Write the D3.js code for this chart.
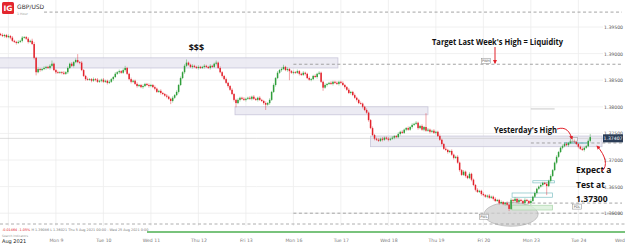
<!DOCTYPE html>
<html>
<head>
<meta charset="utf-8">
<title>GBP/USD</title>
<script src="https://d3js.org/d3.v7.min.js"></script>
<style>
  body { margin: 0; background: #fff; }
  svg { display: block; font-family: "DejaVu Sans", sans-serif; }
  .note { font-weight: bold; fill: #111; font-family: "Open Sans", sans-serif; }
</style>
</head>
<body>
<script>
// hourly GBP/USD bars, Thu 5 Aug 20:00 -> Tue 24 Aug 06:00 (weekend hours removed)
var firstOpen = 1.3937;
var closes = [
  1.3935,1.3933,1.3935,1.3931,1.3933,1.3930,1.3924,1.3922,1.3920,1.3922,1.3924,1.3930,1.3931,1.3928,1.3922,1.3924,1.3918,1.3892,1.3865,1.3871,1.3869,1.3871,1.3873,1.3875,
  1.3873,1.3877,1.3881,1.3869,1.3865,1.3864,1.3865,1.3864,1.3862,1.3865,1.3873,1.3881,1.3877,1.3884,1.3888,1.3884,1.3883,1.3869,1.3858,1.3852,1.3851,1.3852,1.3849,1.3852,
  1.3851,1.3847,1.3849,1.3851,1.3847,1.3849,1.3845,1.3847,1.3852,1.3856,1.3862,1.3865,1.3867,1.3864,1.3869,1.3873,1.3862,1.3852,1.3847,1.3849,1.3843,1.3839,1.3841,1.3837,
  1.3839,1.3843,1.3841,1.3839,1.3841,1.3837,1.3834,1.3828,1.3830,1.3826,1.3824,1.3821,1.3819,1.3815,1.3811,1.3817,1.3822,1.3828,1.3841,1.3854,1.3865,1.3877,1.3883,1.3879,
  1.3875,1.3877,1.3875,1.3873,1.3875,1.3873,1.3875,1.3877,1.3875,1.3873,1.3877,1.3875,1.3881,1.3883,1.3873,1.3865,1.3858,1.3852,1.3845,1.3839,1.3832,1.3824,1.3813,1.3807,
  1.3813,1.3817,1.3815,1.3813,1.3815,1.3817,1.3815,1.3819,1.3815,1.3813,1.3817,1.3813,1.3811,1.3807,1.3804,1.3807,1.3813,1.3828,1.3841,1.3854,1.3864,1.3869,1.3871,1.3875,
  1.3869,1.3871,1.3867,1.3864,1.3865,1.3864,1.3867,1.3862,1.3860,1.3864,1.3862,1.3854,1.3851,1.3852,1.3858,1.3856,1.3862,1.3864,1.3847,1.3836,1.3841,1.3843,1.3845,1.3843,
  1.3847,1.3845,1.3843,1.3847,1.3845,1.3841,1.3837,1.3832,1.3826,1.3828,1.3822,1.3817,1.3813,1.3807,1.3806,1.3800,1.3794,1.3789,1.3775,1.3760,1.3747,1.3740,1.3738,1.3736,
  1.3740,1.3738,1.3742,1.3740,1.3738,1.3740,1.3742,1.3745,1.3743,1.3749,1.3753,1.3751,1.3757,1.3760,1.3757,1.3762,1.3766,1.3768,1.3770,1.3760,1.3764,1.3757,1.3762,1.3755,
  1.3757,1.3753,1.3755,1.3751,1.3753,1.3745,1.3738,1.3730,1.3721,1.3719,1.3715,1.3717,1.3710,1.3704,1.3706,1.3695,1.3681,1.3672,1.3678,1.3670,1.3666,1.3674,1.3663,1.3653,
  1.3644,1.3640,1.3642,1.3636,1.3634,1.3631,1.3633,1.3629,1.3631,1.3627,1.3623,1.3625,1.3619,1.3621,1.3617,1.3619,1.3616,1.3608,1.3625,1.3623,1.3627,1.3621,1.3625,1.3623,
  1.3619,1.3625,1.3623,1.3619,1.3623,1.3631,1.3638,1.3646,1.3650,1.3653,1.3657,1.3655,1.3651,1.3661,1.3670,1.3681,1.3695,1.3706,1.3715,1.3723,1.3726,1.3730,1.3728,1.3732,
  1.3736,1.3738,1.3734,1.3730,1.3725,1.3721,1.3719,1.3723,1.3726,1.3736,1.3743
];
// wick lengths in pips above / below the body
var wickUp = [
  2,3,2,2,3,2,3,2,2,3,2,3,2,2,3,2,4,4,2,3,2,2,3,2,
  2,3,6,2,2,3,2,2,3,2,3,2,3,2,3,11,2,3,2,2,3,2,2,3,
  2,3,2,2,3,2,2,3,2,2,3,2,3,2,3,4,2,2,3,2,2,3,2,2,
  3,2,2,3,2,2,3,2,2,3,2,2,3,2,2,3,2,3,2,3,2,3,6,2,
  2,3,2,2,3,2,2,3,2,2,3,2,2,4,2,3,2,2,3,2,2,3,2,2,
  3,2,2,3,2,2,3,2,3,2,2,3,2,2,3,2,3,2,3,2,3,2,3,4,
  2,3,2,2,3,2,3,2,2,3,2,2,3,2,2,3,2,3,2,2,3,2,2,3,
  2,2,3,2,2,3,2,2,3,2,2,3,2,2,3,2,2,3,2,2,3,2,2,3,
  2,3,2,2,3,2,3,2,2,3,2,3,2,2,3,2,3,2,3,2,2,3,2,26,
  3,2,2,3,2,2,3,2,2,3,2,2,3,2,2,3,2,2,3,2,2,3,2,2,
  2,3,2,2,3,2,2,3,2,2,3,2,2,3,2,2,3,2,3,2,3,2,3,2,
  2,3,2,2,3,2,3,2,2,3,2,2,3,2,3,2,2,3,2,2,3,2,3,2,
  3,4,2,3,2,2,3,2,2,3,6
];
var wickDown = [
  2,2,3,2,2,3,2,2,3,2,2,3,2,2,3,2,2,3,6,2,3,2,2,3,
  2,3,2,2,3,2,2,3,2,2,3,2,2,3,2,2,3,2,2,3,2,2,3,2,
  3,2,2,3,2,2,3,2,2,3,2,2,3,2,2,3,2,2,3,2,2,3,2,2,
  3,2,2,3,2,2,3,2,2,3,2,2,3,2,6,3,2,2,3,2,2,3,2,2,
  2,3,2,2,3,2,2,3,2,2,3,2,2,3,2,2,3,2,2,3,2,2,3,8,
  2,3,2,2,3,2,2,3,2,2,3,2,2,3,10,2,3,2,2,3,2,2,3,2,
  2,3,17,2,3,2,2,3,2,2,3,2,2,3,2,2,3,2,2,6,2,3,2,2,
  3,2,2,3,2,2,3,2,2,3,2,2,3,2,2,3,2,2,3,2,2,3,2,2,
  2,3,2,2,3,2,2,3,2,2,3,2,2,3,2,2,3,2,2,3,2,2,3,2,
  2,3,2,2,3,2,2,3,2,2,3,2,2,3,2,2,3,2,2,3,2,2,3,2,
  3,2,2,3,2,2,3,2,2,3,2,2,3,2,2,3,2,4,2,3,2,2,3,2,
  2,3,2,2,3,2,2,3,2,2,3,2,17,2,3,2,2,3,2,2,3,2,2,3,
  2,3,2,2,3,2,2,3,2,2,3
];

var dayIndex = [4, 28, 52, 76, 100, 124, 148, 172, 196, 220, 244, 268, 292, 316];
var dayLabels = ["Aug 2021", "Mon 9", "Tue 10", "Wed 11", "Thu 12", "Fri 13", "Mon 16", "Tue 17", "Wed 18", "Thu 19", "Fri 20", "Mon 23", "Tue 24", "Wed"];
var priceTicks = [1.360, 1.365, 1.370, 1.375, 1.380, 1.385, 1.390, 1.395];
var lastPrice = 1.37407;

// drawn zones: [from bar, to bar, low, high]
var zones = [[-1, 170.5, 1.3873, 1.3892], [118.5, 216, 1.3785, 1.3800], [187, 316, 1.3725, 1.3745]];
// dashed levels: [price, from bar, tag]
var levels = [[1.3978, 22, ""], [1.3880, 148, "PWH"], [1.3732, 268, ""], [1.3619, 252, "PDL"], [1.3600, 148, "PWL"]];
// small drawn ranges near the lows: [from bar, to bar, low, high, filled]
var ranges = [[258.5, 279, 1.3630, 1.3638, 0], [258.5, 279, 1.3606, 1.3615, 1], [269, 280, 1.3657, 1.3661, 0], [285, 296, 1.3731, 1.3733, 0]];
var marks = [[268, 280, 1.3796]];

var W = 625, H = 246, pip = 0.0001;
var svg = d3.select("body").append("svg").attr("width", W).attr("height", H);

var x = d3.scaleLinear().domain([0, 316]).range([0.5, 0.5 + 316 * 1.979]);
var y = d3.scaleLinear().domain([1.360, 1.395]).range([213.2, 27]);

// grid
svg.append("g").selectAll("line").data(dayIndex).enter().append("line")
  .attr("x1", d => x(d)).attr("x2", d => x(d)).attr("y1", 0).attr("y2", 226)
  .attr("stroke", "#ececec").attr("stroke-width", 0.8);
svg.append("g").selectAll("line").data(priceTicks).enter().append("line")
  .attr("x1", 0).attr("x2", 603).attr("y1", d => y(d)).attr("y2", d => y(d))
  .attr("stroke", "#ececec").attr("stroke-width", 0.8);

// zones
svg.append("g").selectAll("rect").data(zones).enter().append("rect")
  .attr("x", d => x(d[0])).attr("width", d => Math.min(x(d[1]), 602) - x(d[0]))
  .attr("y", d => y(d[3])).attr("height", d => y(d[2]) - y(d[3]))
  .attr("fill", "#e9e8f1").attr("fill-opacity", 0.85)
  .attr("stroke", "#c9c6da").attr("stroke-width", 0.8);

// dashed levels
svg.append("g").selectAll("line").data(levels).enter().append("line")
  .attr("x1", d => x(d[1])).attr("x2", 622).attr("y1", d => y(d[0])).attr("y2", d => y(d[0]))
  .attr("stroke", "#9a9a9a").attr("stroke-width", 0.9).attr("stroke-dasharray", "3,2.5");

// ellipse around the lows
svg.append("ellipse").attr("cx", x(258)).attr("cy", y(1.3598)).attr("rx", 27).attr("ry", 12)
  .attr("fill", "#cfcfcf").attr("fill-opacity", 0.75).attr("stroke", "#a8a8a8").attr("stroke-width", 0.6);

// small ranges
svg.append("g").selectAll("rect").data(ranges).enter().append("rect")
  .attr("x", d => x(d[0])).attr("width", d => x(d[1]) - x(d[0]))
  .attr("y", d => y(d[3])).attr("height", d => y(d[2]) - y(d[3]))
  .attr("fill", d => d[4] ? "#d9efd9" : "none").attr("fill-opacity", 0.8)
  .attr("stroke", d => d[4] ? "#a9d6a9" : "#7fc1c4").attr("stroke-width", 0.7);
svg.append("g").selectAll("line").data(marks).enter().append("line")
  .attr("x1", d => x(d[0])).attr("x2", d => x(d[1])).attr("y1", d => y(d[2])).attr("y2", d => y(d[2]))
  .attr("stroke", "#bdbdbd").attr("stroke-width", 0.8);

// last price line
svg.append("line").attr("x1", 0).attr("x2", 603).attr("y1", y(lastPrice)).attr("y2", y(lastPrice))
  .attr("stroke", "#c4c4c4").attr("stroke-width", 0.6);

// candles
var bars = closes.map(function(c, i) {
  var o = i === 0 ? firstOpen : closes[i - 1];
  return { i: i, o: o, c: c, h: Math.max(o, c) + wickUp[i] * pip, l: Math.min(o, c) - wickDown[i] * pip };
});
var upCol = "#2f9e3a", downCol = "#e2222b";
var candle = svg.append("g").selectAll("g").data(bars).enter().append("g");
candle.append("line")
  .attr("x1", d => x(d.i)).attr("x2", d => x(d.i))
  .attr("y1", d => y(d.h)).attr("y2", d => y(d.l))
  .attr("stroke", d => d.c >= d.o ? upCol : downCol).attr("stroke-width", 0.7).attr("stroke-opacity", 0.6);
candle.append("rect")
  .attr("x", d => x(d.i) - 0.75).attr("width", 1.5)
  .attr("y", d => y(Math.max(d.o, d.c)))
  .attr("height", d => Math.max(0.8, Math.abs(y(d.o) - y(d.c))))
  .attr("fill", d => d.c >= d.o ? upCol : downCol);

// level tags
svg.append("g").selectAll("g").data(levels.filter(d => d[2])).enter().append("g")
  .each(function(d) {
    var g = d3.select(this);
    var tx = d[2] === "PWH" ? x(243) : d[2] === "PDL" ? x(289) : x(242);
    var ty = d[2] === "PWH" ? y(d[0]) - 6 : y(d[0]) + 1;
    g.append("rect").attr("x", tx).attr("y", ty).attr("width", 9).attr("height", 5)
      .attr("fill", "#fff").attr("stroke", "#8a8a8a").attr("stroke-width", 0.5);
    g.append("text").attr("x", tx + 4.5).attr("y", ty + 3.8).attr("text-anchor", "middle")
      .attr("font-size", 3.4).attr("fill", "#555").text(d[2]);
  });
// tag at yesterday's high
svg.append("rect").attr("x", x(288)).attr("y", y(1.3742)).attr("width", 7).attr("height", 4)
  .attr("fill", "#fff").attr("fill-opacity", 0.6).attr("stroke", "#8a8a8a").attr("stroke-width", 0.5);

// price axis
var yAxis = svg.append("g").attr("transform", "translate(623,0)")
  .call(d3.axisLeft(y).tickValues(priceTicks).tickFormat(d3.format(".5f")).tickSize(0).tickPadding(0));
yAxis.select(".domain").remove();
yAxis.selectAll("text").attr("font-size", 4.6).attr("fill", "#555").attr("font-family", "DejaVu Sans");

// last price box
svg.append("rect").attr("x", 603).attr("y", y(lastPrice) - 4).attr("width", 20).attr("height", 8).attr("fill", "#2b3d57");
svg.append("text").attr("x", 613).attr("y", y(lastPrice) + 1.7).attr("text-anchor", "middle")
  .attr("font-size", 4.6).attr("fill", "#fff").text(d3.format(".5f")(lastPrice));

// time axis
var xAxis = svg.append("g").attr("transform", "translate(0,239)")
  .call(d3.axisBottom(x).tickValues(dayIndex).tickFormat((d, i) => dayLabels[i]).tickSize(0).tickPadding(0));
xAxis.select(".domain").remove();
xAxis.selectAll("text").attr("font-size", 4.6).attr("fill", "#777").attr("font-family", "DejaVu Sans");
xAxis.selectAll("text").filter((d, i) => i === 0)
  .attr("fill", "#222").attr("font-size", 5).attr("text-anchor", "start").attr("x", 1.5 - x(4));
xAxis.selectAll("text").filter((d, i) => i === dayIndex.length - 1)
  .attr("text-anchor", "end").attr("x", 624.5 - x(316));

// bottom strip
svg.append("line").attr("x1", 0).attr("x2", 625).attr("y1", 224).attr("y2", 224)
  .attr("stroke", "#9a9a9a").attr("stroke-width", 0.8).attr("stroke-dasharray", "3,2.5");
svg.append("line").attr("x1", 147).attr("x2", 625).attr("y1", 232).attr("y2", 232)
  .attr("stroke", "#4caf50").attr("stroke-width", 1.4);
var info = svg.append("text").attr("x", 2).attr("y", 231).attr("font-size", 3.4).attr("fill", "#777");
info.append("tspan").attr("fill", "#e2222b").text("-0.01464   -1.05%");
info.append("tspan").text("   H 1.39086   L 1.36021   Thu 5 Aug 2021 00:00 - Wed 25 Aug 2021 0:00");
svg.append("text").attr("x", 2).attr("y", 236.5).attr("font-size", 3).attr("fill", "#999").text("Search Indicators");

// header
svg.append("rect").attr("x", 2).attr("y", 2).attr("width", 12).attr("height", 12).attr("rx", 1.5).attr("fill", "#e3262d");
svg.append("text").attr("x", 8).attr("y", 10.8).attr("text-anchor", "middle").attr("font-size", 7.5)
  .attr("font-weight", "bold").attr("fill", "#fff").text("IG");
svg.append("text").attr("x", 17).attr("y", 9).attr("font-size", 6).attr("fill", "#333").text("GBP/USD");
svg.append("text").attr("x", 17).attr("y", 14.5).attr("font-size", 3.2).attr("fill", "#999").text("1 Hour");

// annotations
var defs = svg.append("defs");
defs.append("marker").attr("id", "arr").attr("viewBox", "0 0 10 10").attr("refX", 8).attr("refY", 5)
  .attr("markerWidth", 4).attr("markerHeight", 4).attr("orient", "auto")
  .append("path").attr("d", "M0,0L10,5L0,10z").attr("fill", "#e2222b");

svg.append("text").attr("class", "note").attr("x", x(99)).attr("y", 51).attr("text-anchor", "middle")
  .attr("font-size", 9).text("$$$");
svg.append("text").attr("class", "note").attr("x", 432).attr("y", 45).attr("font-size", 8)
  .attr("textLength", 131).attr("lengthAdjust", "spacingAndGlyphs").text("Target Last Week's High = Liquidity");
svg.append("line").attr("x1", 495).attr("x2", 495).attr("y1", 47).attr("y2", y(1.3880) - 1)
  .attr("stroke", "#e2222b").attr("stroke-width", 1).attr("marker-end", "url(#arr)");

svg.append("text").attr("class", "note").attr("x", 494).attr("y", 133).attr("font-size", 8)
  .attr("textLength", 63).attr("lengthAdjust", "spacingAndGlyphs").text("Yesterday's High");
svg.append("path").attr("d", "M557,129 C566,126 570,132 572,139")
  .attr("fill", "none").attr("stroke", "#e2222b").attr("stroke-width", 1).attr("marker-end", "url(#arr)");

["Expect a", "Test at", "1.37300"].forEach(function(t, k) {
  svg.append("text").attr("class", "note").attr("x", 576).attr("y", 173 + k * 14.5).attr("font-size", 8.5).text(t);
});
svg.append("path").attr("d", "M602,171 C608,166 606,156 597,146")
  .attr("fill", "none").attr("stroke", "#e2222b").attr("stroke-width", 1).attr("marker-end", "url(#arr)");
</script>
</body>
</html>
